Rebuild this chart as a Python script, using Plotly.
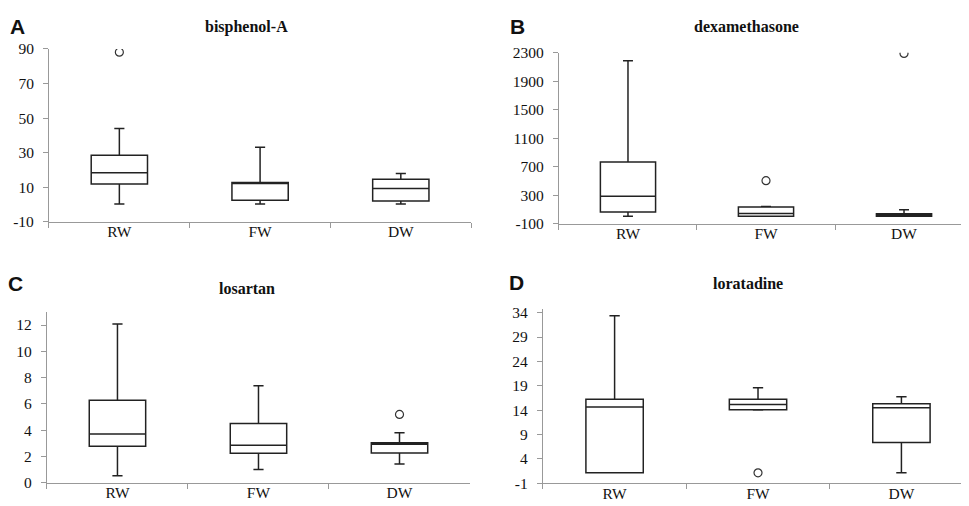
import plotly.graph_objects as go

categories = ["RW", "FW", "DW"]

# panel A: bisphenol-A
a_low = [0.3, 0.3, 0.3]
a_q1 = [11.9, 2.5, 2.1]
a_med = [18.4, 12.2, 9.3]
a_q3 = [28.5, 12.8, 14.7]
a_high = [44.0, 33.2, 18.0]
a_out_x = ["RW"]
a_out_y = [88.1]
a_ticks = [-10, 10, 30, 50, 70, 90]
a_ticktext = ["-10", "10", "30", "50", "70", "90"]

# panel B: dexamethasone
b_low = [8, 8, 8]
b_q1 = [67, 8, 8]
b_med = [288, 44, 26]
b_q3 = [766, 135, 40]
b_high = [2187, 143, 99]
b_out_x = ["FW", "DW"]
b_out_y = [505, 2290]
b_ticks = [-100, 300, 700, 1100, 1500, 1900, 2300]
b_ticktext = ["-100", "300", "700", "1100", "1500", "1900", "2300"]

# panel C: losartan
c_low = [0.54, 1.02, 1.44]
c_q1 = [2.78, 2.24, 2.27]
c_med = [3.71, 2.85, 2.93]
c_q3 = [6.27, 4.51, 3.05]
c_high = [12.07, 7.39, 3.8]
c_out_x = ["DW"]
c_out_y = [5.2]
c_ticks = [0, 2, 4, 6, 8, 10, 12]
c_ticktext = ["0", "2", "4", "6", "8", "10", "12"]

# panel D: loratadine
d_low = [1.12, 14.0, 1.12]
d_q1 = [1.12, 14.09, 7.34]
d_med = [14.62, 15.15, 14.49]
d_q3 = [16.2, 16.2, 15.28]
d_high = [33.35, 18.59, 16.74]
d_out_x = ["FW"]
d_out_y = [1.12]
d_ticks = [-1, 4, 9, 14, 19, 24, 29, 34]
d_ticktext = ["-1", "4", "9", "14", "19", "24", "29", "34"]

titles = ["bisphenol-A", "dexamethasone", "losartan", "loratadine"]
letters = ["A", "B", "C", "D"]

panels = [
    (a_low, a_q1, a_med, a_q3, a_high, a_out_x, a_out_y, [-10, 90], a_ticks, a_ticktext, [0.0423, 0.478], [0.581, 0.9348]),
    (b_low, b_q1, b_med, b_q3, b_high, b_out_x, b_out_y, [-100, 2300], b_ticks, b_ticktext, [0.5686, 0.9959], [0.577, 0.927]),
    (c_low, c_q1, c_med, c_q3, c_high, c_out_x, c_out_y, [0, 13], c_ticks, c_ticktext, [0.0402, 0.4768], [0.0474, 0.397]),
    (d_low, d_q1, d_med, d_q3, d_high, d_out_x, d_out_y, [-1, 34.85], d_ticks, d_ticktext, [0.552, 0.996], [0.0468, 0.4038]),
]

fig = go.Figure()
serif = "Liberation Serif, Times New Roman, serif"
for i, (lo, q1, med, q3, hi, ox, oy, yr, tv, tt, xd, yd) in enumerate(panels):
    n = "" if i == 0 else str(i + 1)
    fig.add_trace(go.Box(
        x=categories, q1=q1, median=med, q3=q3, lowerfence=lo, upperfence=hi,
        fillcolor="white", line=dict(color="#222222", width=1.5),
        whiskerwidth=0.18, width=0.4, boxpoints=False, showlegend=False,
        xaxis="x" + n, yaxis="y" + n, hoverinfo="skip",
    ))
    fig.add_trace(go.Scatter(
        x=ox, y=oy, mode="markers", showlegend=False,
        marker=dict(symbol="circle-open", size=8, color="#333333", line=dict(width=1.2)),
        xaxis="x" + n, yaxis="y" + n,
    ))
    fig.layout["xaxis" + n] = dict(
        domain=xd, anchor="y" + n, type="category", categoryorder="array",
        categoryarray=categories, range=[-0.5, 2.5], showgrid=False,
        showline=True, linecolor="#999999", linewidth=1, ticks="outside",
        tickson="boundaries", ticklen=5, tickcolor="#999999",
        tickfont=dict(family=serif, size=15.5, color="#111"), ticklabelstandoff=-4,
        zeroline=False,
    )
    fig.layout["yaxis" + n] = dict(
        domain=yd, anchor="x" + n, range=yr, tickmode="array", tickvals=tv, ticktext=tt,
        showgrid=False, showline=True, linecolor="#999999", linewidth=1,
        ticks="outside", ticklen=5, tickcolor="#999999",
        tickfont=dict(family=serif, size=15.5, color="#111"), ticklabelstandoff=6,
        zeroline=False,
    )

title_pos = [(238, 10), (738, 10), (239, 281), (740, 276)]
letter_pos = [(9, 10), (509, 10), (8, 276), (508, 275)]
W, H = 969, 506
for t, (px, py) in zip(titles, title_pos):
    fig.add_annotation(text="<b>" + t + "</b>", x=px / W, y=1 - py / H, xref="paper", yref="paper",
                       showarrow=False, xanchor="center", yanchor="middle",
                       font=dict(family=serif, size=16, color="#111"))
for t, (px, py) in zip(letters, letter_pos):
    fig.add_annotation(text="<b>" + t + "</b>", x=px / W, y=1 - py / H, xref="paper", yref="paper",
                       showarrow=False, xanchor="center", yanchor="middle",
                       font=dict(family="Liberation Sans, Arial, sans-serif", size=21, color="#111"))

fig.update_layout(width=W, height=H, margin=dict(l=0, r=0, t=0, b=0),
                  paper_bgcolor="white", plot_bgcolor="white", showlegend=False,
                  boxmode="overlay")
fig.write_html("out.html")
